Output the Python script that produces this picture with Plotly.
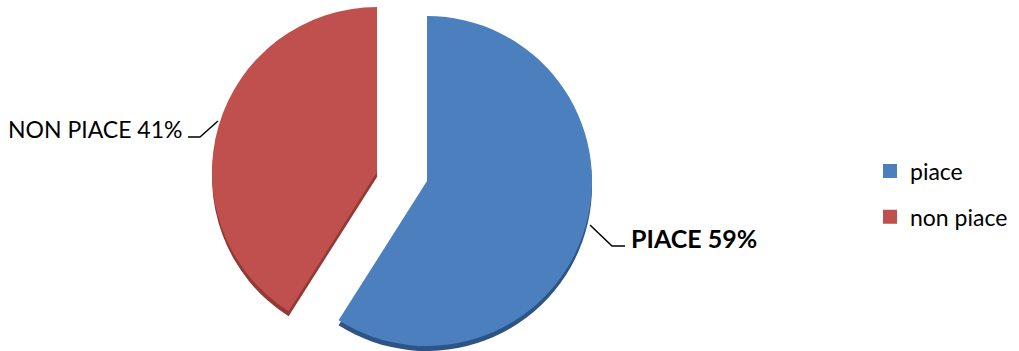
import plotly.graph_objects as go

# Survey result: share of respondents who like / dislike
categories = ["piace", "non piace"]
values = [59, 41]
label_names = ["PIACE", "NON PIACE"]

W, H = 1019, 351
R = 165                      # pie radius in px
BLUE, RED = "#4c7fbd", "#c0504d"
BLUE_SIDE, RED_SIDE = "#2d5484", "#943936"
CLEAR = "rgba(0,0,0,0)"
FONT = "Lato, 'Liberation Sans', Arial, sans-serif"


def domain(cx, cy, r):
    """Pie domain (paper fractions) for a pie centred at (cx, cy) px with radius r px."""
    return dict(
        x=[max(0.0, (cx - r) / W), min(1.0, (cx + r) / W)],
        y=[max(0.0, (H - cy - r) / H), min(1.0, (H - cy + r) / H)],
    )


def slice_pie(colors, cx, cy):
    return go.Pie(
        labels=categories,
        values=values,
        sort=False,
        direction="clockwise",
        rotation=0,
        marker=dict(colors=colors, line=dict(width=0)),
        textinfo="none",
        hoverinfo="label+percent",
        showlegend=False,
        domain=domain(cx, cy, R),
    )


# exploded slices: each slice is its own pie, shifted apart; a darker copy
# a few px lower gives the slab thickness
blue_c, red_c, depth = (427, 181), (377, 172), 5
traces = [
    slice_pie([BLUE_SIDE, CLEAR], blue_c[0], blue_c[1] + depth),
    slice_pie([CLEAR, RED_SIDE], red_c[0], red_c[1] + depth),
    slice_pie([BLUE, CLEAR], *blue_c),
    slice_pie([CLEAR, RED], *red_c),
]

# legend entries
for name, col, grp in [(categories[0], BLUE, "a"), (categories[1], RED, "b")]:
    traces.append(go.Scatter(
        x=[None], y=[None], mode="markers", name=name, legendgroup=grp,
        marker=dict(symbol="square", size=14, color=col),
    ))

fig = go.Figure(traces)

fig.update_layout(
    width=W, height=H,
    margin=dict(l=0, r=0, t=0, b=0),
    paper_bgcolor="white", plot_bgcolor="white",
    font=dict(family=FONT, color="black", size=23),
    xaxis=dict(range=[0, W], visible=False, fixedrange=True),
    yaxis=dict(range=[H, 0], visible=False, fixedrange=True),
    legend=dict(
        x=870 / W, y=1 - 194 / H, xanchor="left", yanchor="middle",
        font=dict(size=23, family=FONT), tracegroupgap=13,
        bgcolor="rgba(0,0,0,0)",
    ),
    showlegend=True,
    annotations=[
        dict(x=184, y=129, xref="x", yref="y", xanchor="right", yanchor="middle",
             text=f"{label_names[1]} {values[1]}%", showarrow=False,
             font=dict(size=23, family=FONT)),
        dict(x=629, y=238, xref="x", yref="y", xanchor="left", yanchor="middle",
             text=f"<b>{label_names[0]} {values[0]}%</b>", showarrow=False,
             font=dict(size=25, family=FONT)),
    ],
    shapes=[
        dict(type="path", xref="x", yref="y", path="M 188 137 L 200 137 L 218 121",
             line=dict(color="black", width=1.5)),
        dict(type="path", xref="x", yref="y", path="M 590 225 L 612 246 L 625 246",
             line=dict(color="black", width=1.5)),
    ],
)

fig.write_html("out.html")
